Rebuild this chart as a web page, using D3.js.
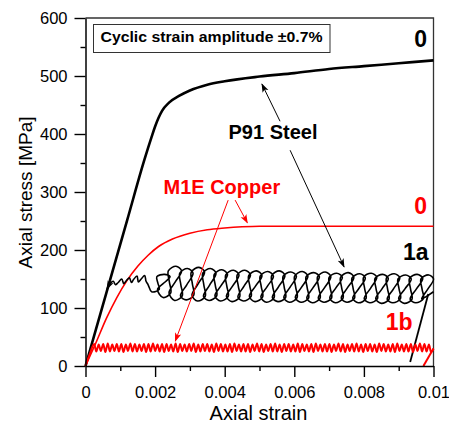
<!DOCTYPE html>
<html>
<head>
<meta charset="utf-8">
<script src="https://cdn.jsdelivr.net/npm/d3@7"></script>
<style>
  body { margin: 0; background: #fff; }
  svg { display: block; font-family: "Liberation Sans", Arial, sans-serif; }
</style>
</head>
<body>
<svg id="chart" width="449" height="424"></svg>
<script>
// Axis ticks
const xMajor = [0, 0.002, 0.004, 0.006, 0.008, 0.01],
      xTickLabels = ['0', '0.002', '0.004', '0.006', '0.008', '0.01'],
      xMinor = [0.001, 0.003, 0.005, 0.007, 0.009],
      yMajor = [0, 100, 200, 300, 400, 500, 600],
      yMinor = [50, 150, 250, 350, 450, 550];

// P91 steel, monotonic curve "0"
const steelMonoStrain = [0, 0.0006, 0.0012, 0.0017, 0.0019, 0.0020, 0.0021, 0.0022, 0.0024, 0.0027,
                         0.0030, 0.0035, 0.0040, 0.0050, 0.0060, 0.0070, 0.0080, 0.0090, 0.0100];
const steelMonoStress = [0, 126, 252, 357, 395, 413, 428, 440, 454, 466,
                         475, 485, 491, 499, 505, 512, 517, 522, 527];

// M1E copper, monotonic curve "0"
const cuMonoStrain = [0, 0.0003, 0.0006, 0.0009, 0.0012, 0.0015, 0.0018, 0.0021, 0.0025,
                      0.0030, 0.0035, 0.0040, 0.0045, 0.0050, 0.0060, 0.0080, 0.0100];
const cuMonoStress = [0, 40, 82, 118, 148, 172, 191, 206, 219,
                      229, 235, 238, 240, 241, 241, 241, 241];

// P91 steel, cyclic curve "1a" (strain in 1e-5 units)
const steelCycStrain = [62, 72, 80, 86, 94, 104, 110, 116, 126, 132, 138, 148, 152, 160, 170, 174, 180,
  190, 212, 208, 205, 227, 243, 225, 207,
  223, 245, 241, 238, 260, 276, 258, 240,
  256, 278, 274, 271, 293, 309, 291, 273,
  289, 311, 307, 304, 326, 342, 324, 306,
  322, 344, 340, 337, 359, 375, 357, 339,
  355, 377, 373, 370, 392, 408, 390, 372,
  388, 410, 406, 403, 425, 441, 423, 405,
  421, 443, 439, 436, 458, 474, 456, 438,
  454, 476, 472, 469, 491, 507, 489, 471,
  487, 509, 505, 502, 524, 540, 522, 504,
  520, 542, 538, 535, 557, 573, 555, 537,
  553, 575, 571, 568, 590, 606, 588, 570,
  586, 608, 604, 601, 623, 639, 621, 603,
  619, 641, 637, 634, 656, 672, 654, 636,
  652, 674, 670, 667, 689, 705, 687, 669,
  685, 707, 703, 700, 722, 738, 720, 702,
  718, 740, 736, 733, 755, 771, 753, 735,
  751, 773, 769, 766, 788, 804, 786, 768,
  784, 806, 802, 799, 821, 837, 819, 801,
  817, 839, 835, 832, 854, 870, 852, 834,
  850, 872, 868, 865, 887, 903, 885, 867,
  883, 905, 901, 898, 920, 936, 918, 900,
  916, 938, 934, 931, 953, 969, 951, 933,
  949, 971, 967, 964, 986, 1000, 984, 966,
  1000];
const steelCycStress = [133, 143, 146, 140, 144, 150, 142, 146, 152, 144, 149, 155, 145, 150, 156, 146, 140,
  128, 132, 143, 154, 158, 154, 143, 132,
  118, 126, 145, 164, 172, 164, 145, 126,
  113, 121, 140, 160, 168, 160, 140, 121,
  114, 122, 142, 162, 170, 162, 142, 122,
  112, 120, 140, 160, 168, 160, 140, 120,
  113, 121, 139, 158, 166, 158, 139, 121,
  112, 120, 138, 157, 165, 157, 138, 120,
  111, 119, 138, 157, 165, 157, 138, 119,
  112, 120, 138, 156, 164, 156, 138, 120,
  111, 119, 137, 155, 163, 155, 137, 119,
  110, 118, 137, 156, 164, 156, 137, 118,
  111, 118, 136, 155, 162, 155, 136, 118,
  110, 118, 136, 155, 163, 155, 136, 118,
  110, 117, 135, 154, 161, 154, 135, 117,
  109, 117, 135, 154, 162, 154, 135, 117,
  110, 117, 135, 153, 160, 153, 135, 117,
  109, 117, 135, 153, 161, 153, 135, 117,
  110, 117, 134, 152, 159, 152, 134, 117,
  109, 116, 134, 153, 160, 153, 134, 116,
  109, 116, 133, 151, 158, 151, 133, 116,
  108, 115, 133, 152, 159, 152, 133, 115,
  109, 116, 133, 150, 157, 150, 133, 116,
  108, 115, 133, 151, 158, 151, 133, 115,
  109, 116, 133, 150, 157, 150, 133, 116,
  128];
const steelTailStrain = [933, 985],
      steelTailStress = [7, 124];

// M1E copper, cyclic curve "1b" (strain in 1e-5 units)
const cuCycStrain = [0, 12,
  25, 31, 38, 44, 51, 57, 64, 70, 77, 83, 90, 96, 103, 109, 116, 122, 129, 135, 142, 148,
  155, 161, 168, 174, 181, 187, 194, 200, 207, 213, 220, 226, 233, 239, 246, 252, 259, 265, 272, 278,
  285, 291, 298, 304, 311, 317, 324, 330, 337, 343, 350, 356, 363, 369, 376, 382, 389, 395, 402, 408,
  415, 421, 428, 434, 441, 447, 454, 460, 467, 473, 480, 486, 493, 499, 506, 512, 519, 525, 532, 538,
  545, 551, 558, 564, 571, 577, 584, 590, 597, 603, 610, 616, 623, 629, 636, 642, 649, 655, 662, 668,
  675, 681, 688, 694, 701, 707, 714, 720, 727, 733, 740, 746, 753, 759, 766, 772, 779, 785, 792, 798,
  805, 811, 818, 824, 831, 837, 844, 850, 857, 863, 870, 876, 883, 889, 896, 902, 909, 915, 922, 928,
  935, 941, 948, 954, 961, 967, 974, 980, 987, 993,
  1000];
const cuCycStress = [0, 20,
  38, 25, 37, 26, 38, 24, 39, 25, 37, 26, 38, 25, 38, 24, 37, 26, 39, 25, 38, 25,
  37, 26, 38, 24, 38, 25, 39, 26, 37, 25, 38, 24, 38, 26, 37, 25, 39, 24, 38, 26,
  37, 25, 38, 26, 39, 24, 37, 25, 38, 26, 38, 25, 37, 24, 39, 26, 38, 25, 37, 25,
  38, 24, 39, 26, 37, 25, 38, 25, 38, 24, 37, 26, 39, 25, 38, 24, 37, 26, 38, 25,
  39, 25, 37, 24, 38, 26, 38, 25, 37, 25, 39, 24, 38, 26, 37, 25, 38, 24, 39, 26,
  37, 25, 38, 25, 38, 24, 37, 26, 39, 25, 38, 24, 37, 26, 38, 25, 39, 25, 37, 24,
  38, 26, 38, 25, 37, 24, 39, 26, 38, 25, 37, 25, 38, 24, 39, 26, 37, 25, 38, 25,
  38, 24, 37, 26, 39, 25, 38, 25, 37, 24,
  30];
const cuTailStrain = [1000, 971],
      cuTailStress = [30, 0];

// Annotation arrows [strain0, stress0, strain1, stress1]
const blackArrows = [[0.00559, 422, 0.00507, 486], [0.00588, 372, 0.00743, 171]];
const redArrows = [[0.0043, 286, 0.00465, 247], [0.0041, 286, 0.00258, 43]];

const svg = d3.select('#chart');

const x = d3.scaleLinear().domain([0, 0.01]).range([85.5, 433.5]);
const y = d3.scaleLinear().domain([0, 600]).range([366, 18]);

function zip(xs, ys, k) {
  return xs.map((d, i) => [d * (k || 1), ys[i]]);
}

// Arrow markers
const defs = svg.append('defs');
[['arrowBlack', '#000'], ['arrowRed', '#ff0000']].forEach(([id, col]) => {
  defs.append('marker')
    .attr('id', id)
    .attr('viewBox', '0 -5 10 10')
    .attr('refX', 9)
    .attr('refY', 0)
    .attr('markerUnits', 'userSpaceOnUse')
    .attr('markerWidth', 9)
    .attr('markerHeight', 9)
    .attr('orient', 'auto-start-reverse')
    .append('path')
    .attr('d', 'M0,-3.6L10,0L0,3.6L2.5,0Z')
    .attr('fill', col);
});

// Frame (top and right)
svg.append('path')
  .attr('d', `M${x(0)},${y(600)}H${x(0.01)}V${y(0)}`)
  .attr('fill', 'none')
  .attr('stroke', '#333')
  .attr('stroke-width', 1.3);

const plot = svg.append('g');

const line = d3.line().x(d => x(d[0])).y(d => y(d[1]));

// Steel monotonic
plot.append('path')
  .datum(zip(steelMonoStrain, steelMonoStress))
  .attr('fill', 'none')
  .attr('stroke', '#000')
  .attr('stroke-width', 2.6)
  .attr('d', line.curve(d3.curveMonotoneX));

// Copper monotonic
plot.append('path')
  .datum(zip(cuMonoStrain, cuMonoStress))
  .attr('fill', 'none')
  .attr('stroke', '#ff0000')
  .attr('stroke-width', 1.6)
  .attr('d', line.curve(d3.curveMonotoneX));

// Steel cyclic loops
plot.append('path')
  .datum(zip(steelCycStrain, steelCycStress, 1e-5))
  .attr('fill', 'none')
  .attr('stroke', '#000')
  .attr('stroke-width', 1.6)
  .attr('stroke-linejoin', 'round')
  .attr('marker-start', 'url(#arrowBlack)')
  .attr('d', line.curve(d3.curveCatmullRom.alpha(0.5)));

plot.append('path')
  .datum(zip(steelTailStrain, steelTailStress, 1e-5))
  .attr('fill', 'none')
  .attr('stroke', '#000')
  .attr('stroke-width', 1.8)
  .attr('d', line.curve(d3.curveLinear));

// Copper cyclic
plot.append('path')
  .datum(zip(cuCycStrain, cuCycStress, 1e-5))
  .attr('fill', 'none')
  .attr('stroke', '#ff0000')
  .attr('stroke-width', 2)
  .attr('d', line.curve(d3.curveMonotoneX));

plot.append('path')
  .datum(zip(cuTailStrain, cuTailStress, 1e-5))
  .attr('fill', 'none')
  .attr('stroke', '#ff0000')
  .attr('stroke-width', 2)
  .attr('d', line.curve(d3.curveLinear));

// Axes
svg.append('g').attr('transform', `translate(${x(0)},0)`)
  .call(d3.axisLeft(y).tickValues(yMajor).tickSizeInner(11).tickSizeOuter(0).tickPadding(7));
svg.append('g').attr('transform', `translate(${x(0)},0)`)
  .call(d3.axisLeft(y).tickValues(yMinor).tickSize(5).tickFormat(''))
  .select('.domain').remove();

svg.append('g').attr('transform', `translate(0,${y(0)})`)
  .call(d3.axisBottom(x).tickValues(xMajor).tickSizeInner(11).tickSizeOuter(0).tickPadding(9)
    .tickFormat((d, i) => xTickLabels[i]));
svg.append('g').attr('transform', `translate(0,${y(0)})`)
  .call(d3.axisBottom(x).tickValues(xMinor).tickSize(5).tickFormat(''))
  .select('.domain').remove();

svg.selectAll('.domain').attr('stroke', '#000').attr('stroke-width', 1.5);
svg.selectAll('.tick line').attr('stroke', '#000').attr('stroke-width', 1.4);
svg.selectAll('.tick text')
  .attr('fill', '#000')
  .style('font-size', '16.5px')
  .style('font-family', '"Liberation Sans", Arial, sans-serif');

// Axis titles
svg.append('text')
  .attr('x', 258.5).attr('y', 419.5)
  .attr('text-anchor', 'middle')
  .style('font-size', '20px')
  .text('Axial strain');

svg.append('text')
  .attr('transform', 'translate(32,192.5) rotate(-90)')
  .attr('text-anchor', 'middle')
  .style('font-size', '19px')
  .text('Axial stress [MPa]');

// Legend box
svg.append('rect')
  .attr('x', 93.5).attr('y', 24.5).attr('width', 236.5).attr('height', 28)
  .attr('fill', '#fff').attr('stroke', '#333').attr('stroke-width', 1);
svg.append('text')
  .attr('x', 100.5).attr('y', 42)
  .attr('textLength', 222).attr('lengthAdjust', 'spacingAndGlyphs')
  .style('font-size', '14.5px').style('font-weight', 'bold')
  .text('Cyclic strain amplitude \u00b10.7%');

// Annotation arrows
svg.append('g').selectAll('line').data(blackArrows).join('line')
  .attr('x1', d => x(d[0])).attr('y1', d => y(d[1]))
  .attr('x2', d => x(d[2])).attr('y2', d => y(d[3]))
  .attr('stroke', '#000').attr('stroke-width', 1)
  .attr('marker-end', 'url(#arrowBlack)');
svg.append('g').selectAll('line').data(redArrows).join('line')
  .attr('x1', d => x(d[0])).attr('y1', d => y(d[1]))
  .attr('x2', d => x(d[2])).attr('y2', d => y(d[3]))
  .attr('stroke', '#ff0000').attr('stroke-width', 1)
  .attr('marker-end', 'url(#arrowRed)');

// Labels
const labels = [
  {t: '0', x: 427, y: 46.5, size: 23, col: '#000', anchor: 'end'},
  {t: 'P91 Steel', x: 228.5, y: 138.5, size: 20, col: '#000', anchor: 'start'},
  {t: 'M1E Copper', x: 163.5, y: 193.5, size: 20, col: '#ff0000', anchor: 'start'},
  {t: '0', x: 427, y: 213.5, size: 23, col: '#ff0000', anchor: 'end'},
  {t: '1a', x: 428.5, y: 259.5, size: 23, col: '#000', anchor: 'end'},
  {t: '1b', x: 412.5, y: 330, size: 23, col: '#ff0000', anchor: 'end'}
];
svg.append('g').selectAll('text').data(labels).join('text')
  .attr('x', d => d.x).attr('y', d => d.y)
  .attr('text-anchor', d => d.anchor)
  .attr('fill', d => d.col)
  .style('font-size', d => d.size + 'px')
  .style('font-weight', 'bold')
  .text(d => d.t);
</script>
</body>
</html>
